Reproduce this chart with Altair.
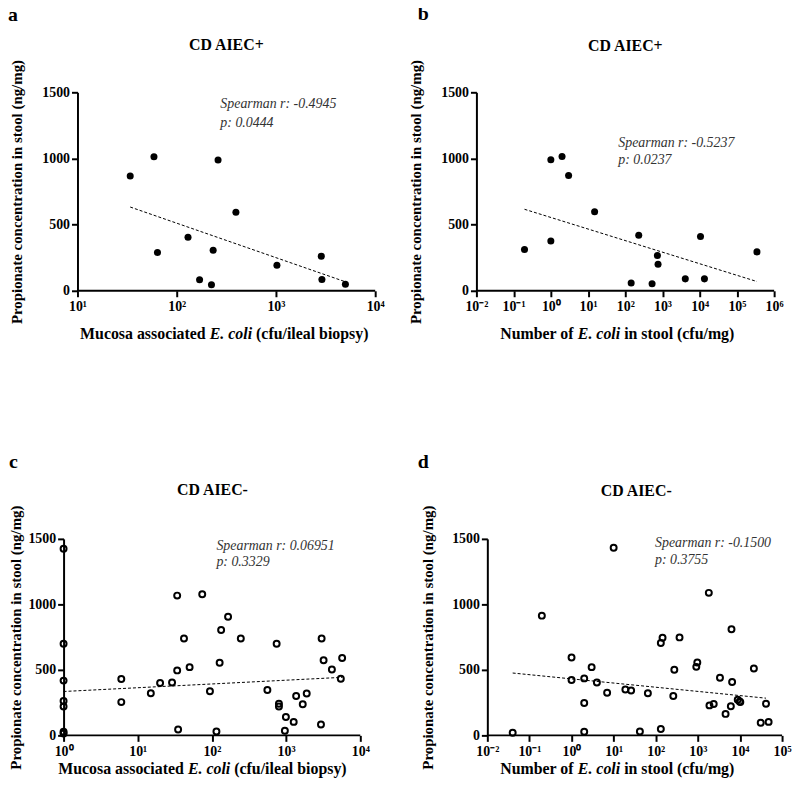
import altair as alt
import pandas as pd

SERIF = "Liberation Serif"

# ---------------- data ----------------
a_x = [34, 59, 64, 130, 261, 233, 395, 170, 224, 1023, 2864, 2905, 5012]
a_y = [867, 1013, 289, 405, 988, 307, 593, 83, 45, 193, 261, 85, 50]
a_fit_x = [34, 5012]
a_fit_y = [633, 68]
a_stats = ["Spearman r: -0.4945", "p: 0.0444"]

b_x = [0.196, 1.0, 1.0, 2.0, 3.0, 15, 144, 230, 525, 730, 760, 4100, 10500, 13400, 345000]
b_y = [312, 990, 377, 1015, 872, 598, 58, 420, 53, 266, 201, 90, 410, 90, 294]
b_fit_x = [0.196, 345000]
b_fit_y = [616, 70]
b_stats = ["Spearman r: -0.5237", "p: 0.0237"]

c_x = [1, 1, 1, 1, 1, 1, 1,
       6.0, 6.0, 15, 20, 29, 34, 34, 35, 42, 50, 74, 94, 115, 127, 133, 165, 245,
       559, 745, 800, 800, 962, 993, 1265, 1365, 1675, 1895, 2950, 3010, 3200,
       4140, 5460, 5690]
c_y = [1425, 700, 418, 262, 221, 28, 15,
       430, 254, 322, 400, 403, 496, 1067, 45, 740, 521, 1077, 337, 30, 554, 805,
       906, 740, 347, 700, 242, 221, 35, 141, 103, 300, 237, 320, 83, 740, 574,
       503, 433, 591]
c_fit_x = [1, 5690]
c_fit_y = [335, 443]
c_stats = ["Spearman r: 0.06951", "p: 0.3329"]

d_x = [0.04, 0.197, 1, 1, 2, 2, 2, 3, 4, 7, 10, 19, 26, 42, 65, 132, 132, 145,
       261, 276, 367, 918, 970, 1820, 1885, 2380, 3350, 4550, 6070, 6290, 6510,
       8850, 9860, 10200, 21400, 31100, 41500, 47900]
d_y = [20, 914, 594, 423, 435, 247, 28, 521, 403, 325, 1432, 350, 342, 30, 322,
       48, 705, 745, 300, 501, 748, 523, 556, 1088, 229, 239, 440, 164, 222, 810,
       408, 272, 259, 254, 510, 96, 242, 103]
d_fit_x = [0.04, 41500]
d_fit_y = [476, 284]
d_stats = ["Spearman r: -0.1500", "p: 0.3755"]

Y_TICKS = [0, 500, 1000, 1500]
Y_TITLE = "Propionate concentration in stool (ng/mg)"

SUP = {-2: "⁻²", -1: "⁻¹", 0: "⁰", 1: "¹", 2: "²", 3: "³", 4: "⁴", 5: "⁵", 6: "⁶"}

WID = {" ": 250, "(": 333, ")": 333, "/": 278, ".": 250, "a": 500, "b": 556,
       "c": 444, "d": 556, "e": 444, "f": 333, "g": 500, "i": 278, "l": 278,
       "m": 833, "n": 556, "o": 500, "p": 556, "r": 444, "s": 389, "t": 333,
       "u": 556, "y": 500, "M": 944, "N": 722, "E": 667}


def tw(s, fs):
    return sum(WID.get(ch, 500) for ch in s) * fs / 1000.0


def label_expr(exps):
    parts = []
    for e in exps[:-1]:
        parts.append(f"datum.value < {1.5 * 10 ** e} ? '10{SUP[e]}'")
    return " : ".join(parts) + f" : '10{SUP[exps[-1]]}'"


def txt(s, x, y, size, weight="normal", style="normal", align="left", color="black"):
    return alt.Chart(pd.DataFrame({"t": [s]})).mark_text(
        align=align, baseline="alphabetic", font=SERIF, fontSize=size,
        fontWeight=weight, fontStyle=style, color=color
    ).encode(x=alt.value(x), y=alt.value(y), text="t:N")


def panel(xs, ys, fx, fy, filled, exps, span, H, letter, lpos, title, tpos,
          stats, spos, ytx, xt_parts, xt_pos, shift=0):
    # span: pixel length of the drawn axis; shift: extra plot width left of the y axis
    W = span + shift
    ppd = span / (exps[-1] - exps[0])
    dmin = 10 ** (exps[0] - shift / ppd)
    df = pd.DataFrame({"x": xs, "y": ys})
    fit = pd.DataFrame({"x": fx, "y": fy})
    xscale = alt.Scale(type="log", domain=[dmin, 10 ** exps[-1]], nice=False)
    yscale = alt.Scale(domain=[0, 1500], nice=False, zero=True)
    xaxis = alt.Axis(values=[10 ** e for e in exps], labelExpr=label_expr(exps),
                     title=None, grid=False, domain=False,
                     tickColor="black", tickWidth=2, tickSize=6, labelFont=SERIF,
                     labelFontSize=14, labelFontWeight="bold", labelColor="black",
                     labelPadding=3, labelFlush=False, labelOverlap=False)
    yaxis = alt.Axis(values=Y_TICKS, format="d", title=Y_TITLE, grid=False,
                     domainColor="black", offset=-shift,
                     domainWidth=2, tickColor="black", tickWidth=2, tickSize=6,
                     labelFont=SERIF, labelFontSize=14, labelFontWeight="bold",
                     labelColor="black", labelPadding=2, titleFont=SERIF,
                     titleFontSize=15, titleFontWeight="bold", titleColor="black",
                     titleAngle=270, titleAlign="center", titleBaseline="middle",
                     titleX=ytx, titleY=H / 2)
    if filled:
        pts = alt.Chart(df).mark_point(filled=True, size=50, color="black", opacity=1)
    else:
        pts = alt.Chart(df).mark_point(filled=False, size=36, strokeWidth=2,
                                       color="black", opacity=1)
    pts = pts.encode(x=alt.X("x:Q", scale=xscale, axis=xaxis),
                     y=alt.Y("y:Q", scale=yscale, axis=yaxis))
    line = alt.Chart(fit).mark_line(color="black", strokeWidth=1, strokeDash=[3, 2]).encode(
        x=alt.X("x:Q", scale=xscale), y=alt.Y("y:Q", scale=yscale))
    xline = alt.Chart(pd.DataFrame({"x": [10 ** exps[0]], "x2": [10 ** exps[-1]]})).mark_rule(
        color="black", strokeWidth=2).encode(
        x=alt.X("x:Q", scale=xscale), x2="x2:Q", y=alt.value(H))
    s = shift
    layers = [xline, line, pts,
              txt(letter, lpos[0] + s, lpos[1], 20, weight="bold"),
              txt(title, tpos[0] + s, tpos[1], 16, weight="bold", align="center"),
              txt(stats[0], spos[0] + s, spos[1], 14, style="italic", color="#333333"),
              txt(stats[1], spos[0] + s, spos[2], 14, style="italic", color="#333333")]
    fs = 16
    s1, s2, s3 = xt_parts
    total = tw(s1 + " ", fs) + tw(s2, fs) + tw(" " + s3, fs)
    start = xt_pos[0] + s - total / 2
    x2 = start + tw(s1 + " ", fs)
    x3 = x2 + tw(s2, fs) + tw(" ", fs)
    layers += [txt(s1, start, xt_pos[1], fs, weight="bold"),
               txt(s2, x2, xt_pos[1], fs, weight="bold", style="italic"),
               txt(s3, x3, xt_pos[1], fs, weight="bold")]
    return alt.layer(*layers).properties(width=W, height=H)


pa = panel(a_x, a_y, a_fit_x, a_fit_y, True, [1, 2, 3, 4], 300, 200,
           "a", (-70, -72), "CD AIEC+", (150, -43), a_stats, (144, 16, 35), -61,
           ("Mucosa associated", "E. coli", "(cfu/ileal biopsy)"), (148, 249), shift=14)
pb = panel(b_x, b_y, b_fit_x, b_fit_y, True, [-2, -1, 0, 1, 2, 3, 4, 5, 6], 300, 200,
           "b", (-59, -73), "CD AIEC+", (150, -42), b_stats, (143, 55, 72), -61,
           ("Number of", "E. coli", "in stool (cfu/mg)"), (142, 249))
pc = panel(c_x, c_y, c_fit_x, c_fit_y, False, [0, 1, 2, 3, 4], 299, 198,
           "c", (-55, -71), "CD AIEC-", (150, -44), c_stats, (154, 11, 27), -48,
           ("Mucosa associated", "E. coli", "(cfu/ileal biopsy)"), (140, 237))
pd_ = panel(d_x, d_y, d_fit_x, d_fit_y, False, [-2, -1, 0, 1, 2, 3, 4, 5], 297, 198,
            "d", (-70, -71), "CD AIEC-", (150, -43), d_stats, (169, 8, 25), -60,
            ("Number of", "E. coli", "in stool (cfu/mg)"), (131, 237), shift=11)

chart = alt.concat(
    pa, pb, pc, pd_, columns=2,
    spacing={"row": 111, "column": 23},
).properties(padding={"top": -7, "left": 0, "right": 0, "bottom": -2}).configure_view(stroke=None)

chart.save("out.html", embed_options={"renderer": "svg", "actions": False})
